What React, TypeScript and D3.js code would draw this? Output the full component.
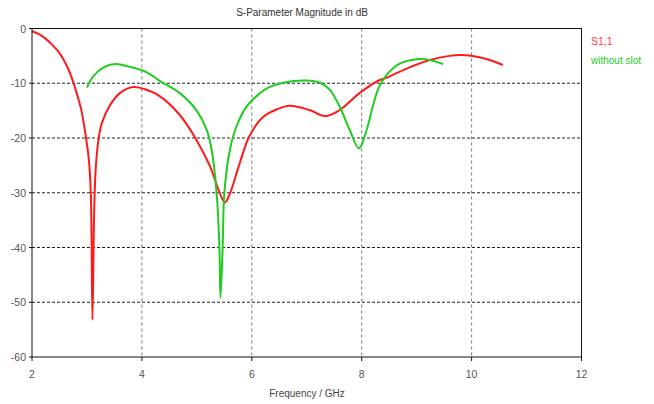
import React from "react";
import * as d3 from "d3";

const s11Freq = [2.0, 2.12, 2.24, 2.36, 2.47, 2.57, 2.66, 2.75, 2.83, 2.9, 2.98, 3.03, 3.07, 3.1, 3.13, 3.16, 3.21, 3.27, 3.42, 3.6, 3.84, 4.085, 4.33, 4.69, 4.99, 5.24, 5.42, 5.51, 5.6, 5.78, 5.96, 6.21, 6.45, 6.69, 7.05, 7.33, 7.6, 7.96, 8.31, 8.45, 8.87, 9.24, 9.6, 9.8, 9.96, 10.27, 10.57];
const s11Db = [-0.5, -1.0, -1.8, -2.9, -4.1, -5.6, -7.4, -9.8, -12.4, -15.0, -19.8, -23.5, -30.0, -53.2, -34.0, -25.5, -20.3, -17.3, -14.0, -11.8, -10.7, -11.2, -12.4, -15.8, -20.3, -25.2, -30.1, -31.8, -30.2, -24.6, -19.6, -16.1, -14.8, -14.1, -14.9, -16.0, -14.9, -11.8, -9.5, -9.0, -7.1, -5.75, -5.0, -4.85, -4.95, -5.57, -6.66];

const slotFreq = [3.0, 3.11, 3.3, 3.51, 3.78, 4.09, 4.33, 4.69, 4.99, 5.18, 5.27, 5.36, 5.41, 5.43, 5.47, 5.5, 5.6, 5.72, 5.9, 6.15, 6.3, 6.57, 7.0, 7.24, 7.42, 7.6, 7.78, 7.95, 8.09, 8.2, 8.31, 8.45, 8.69, 9.0, 9.24, 9.48];
const slotDb = [-10.8, -8.8, -7.1, -6.5, -7.0, -8.0, -9.6, -11.8, -14.9, -18.5, -22.2, -30.1, -39.8, -49.2, -39.8, -30.1, -22.2, -17.9, -14.3, -11.8, -10.8, -9.9, -9.5, -9.9, -11.2, -14.3, -18.5, -21.9, -18.5, -14.3, -10.8, -8.5, -6.4, -5.6, -5.75, -6.5];

const xTicks = [2, 4, 6, 8, 10, 12];
const yTicks = [0, -10, -20, -30, -40, -50, -60];

const W = 654;
const H = 404;
const L = 32;
const R = 581.5;
const T = 28.5;
const B = 357;
const FONT = "'Liberation Sans', Arial, sans-serif";

export default function App() {
  const x = d3.scaleLinear().domain([2, 12]).range([L, R]);
  const y = d3.scaleLinear().domain([0, -60]).range([T, B]);
  const mk = (fs: number[], ds: number[]) =>
    d3
      .line<number>()
      .x((_, i) => x(fs[i]))
      .y((_, i) => y(ds[i]))
      .curve(d3.curveCatmullRom.alpha(0.5))(fs) || "";

  return (
    <svg width={W} height={H} style={{ position: "absolute", left: 0, top: 0, background: "#fff" }}>
      <rect x={0} y={0} width={W} height={H} fill="#fff" />
      <text x={302} y={16} textAnchor="middle" fontFamily={FONT} fontSize={10} fill="#333">
        S-Parameter Magnitude in dB
      </text>
      {xTicks.slice(1, -1).map((t) => (
        <line key={"gx" + t} x1={x(t)} x2={x(t)} y1={T} y2={B} stroke="#777" strokeDasharray="3,3" strokeWidth={1} />
      ))}
      {yTicks.slice(1, -1).map((t) => (
        <line key={"gy" + t} x1={L} x2={R} y1={y(t)} y2={y(t)} stroke="#222" strokeDasharray="3,2" strokeWidth={1} />
      ))}
      <path d={mk(s11Freq, s11Db)} fill="none" stroke="#ff1a1a" strokeWidth={2} />
      <path d={mk(slotFreq, slotDb)} fill="none" stroke="#1fcc1f" strokeWidth={2} />
      <rect x={L} y={T} width={R - L} height={B - T} fill="none" stroke="#111" strokeWidth={1} />
      {xTicks.map((t) => (
        <g key={"xt" + t}>
          <line x1={x(t)} x2={x(t)} y1={B} y2={B + 4} stroke="#111" />
          <text x={x(t)} y={378} textAnchor="middle" fontFamily={FONT} fontSize={10.5} fill="#555">
            {t}
          </text>
        </g>
      ))}
      {yTicks.map((t) => (
        <g key={"yt" + t}>
          <line x1={L - 3} x2={L} y1={y(t)} y2={y(t)} stroke="#111" />
          <text x={26} y={y(t) + 4} textAnchor="end" fontFamily={FONT} fontSize={10.5} fill="#555">
            {t}
          </text>
        </g>
      ))}
      <text x={307} y={397} textAnchor="middle" fontFamily={FONT} fontSize={10} fill="#444">
        Frequency / GHz
      </text>
      <text x={591} y={45} fontFamily={FONT} fontSize={10.5} fill="#ff4040">
        S1,1
      </text>
      <text x={591} y={64} fontFamily={FONT} fontSize={10} fill="#22cc22">
        without slot
      </text>
    </svg>
  );
}
